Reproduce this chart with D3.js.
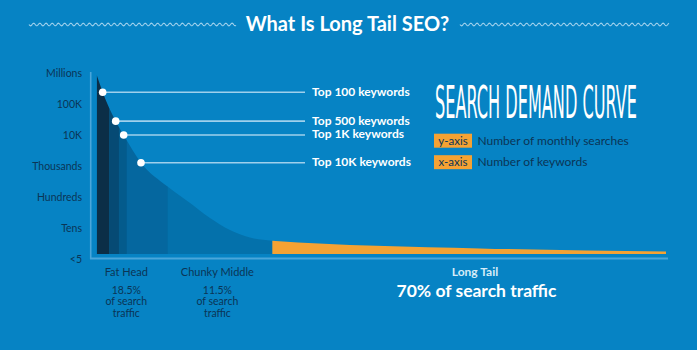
<!DOCTYPE html>
<html>
<head>
<meta charset="utf-8">
<script src="https://cdn.jsdelivr.net/npm/d3@7"></script>
<style>
  html, body { margin: 0; padding: 0; background: #0683c4; }
  svg { display: block; font-family: Lato, "Open Sans", sans-serif; }
</style>
</head>
<body>
<svg id="chart" width="697" height="350"></svg>
<script>
// demand curve: x = keyword position (0..100, share of the x-axis), v = monthly searches
const curveX = [0, 1.05, 3.34, 4.74, 7.78, 12.5, 16.4, 19.9, 23.4, 26.9, 30.8, 67.3, 100];
const curveV = [860000, 240000, 28000, 10000, 1280, 215, 64, 21, 8.6, 4.9, 3.9, 2.2, 1.75];
const baseValue = 1.45;

const yTickValues = [1, 10, 100, 1000, 10000, 100000, 1000000];
const yTickLabels = ["<5", "Tens", "Hundreds", "Thousands", "10K", "100K", "Millions"];

const markerNames = ["Top 100 keywords", "Top 500 keywords", "Top 1K keywords", "Top 10K keywords"];
const markerX = [1.05, 3.34, 4.74, 7.78];
const markerV = [240000, 28000, 10000, 1280];

const bandStart = [0, 2.2, 3.9, 5.27, 12.47, 30.85];
const bandEnd = [2.2, 3.9, 5.27, 12.47, 30.85, 100];
const bandColors = ["#0b2e47", "#064a74", "#045b8c", "#05679f", "#0471ab", "#f5a233"];

const groupNames = ["Fat Head", "Chunky Middle"];
const groupShares = ["18.5%", "11.5%"];
const groupCenters = [5.2, 21.2];

const bg = "#0683c4";
const navy = "#0b3556";
const lineColor = "#9fd0ec";

const svg = d3.select("#chart");
svg.append("rect").attr("width", 697).attr("height", 350).attr("fill", bg);

const x = d3.scaleLinear().domain([0, 100]).range([96.7, 666]);
const y = d3.scaleLog().domain([1, 1000000]).range([259, 73]);

const curveData = curveX.map((d, i) => ({ x: d, v: curveV[i] }));

// title with wavy rules
const wave = (x0, x1, yc) => {
  let p = "";
  for (let px = x0; px <= x1; px += 0.5) {
    const py = yc + 1.3 * Math.sin(((px - x0) / 6.2) * 2 * Math.PI);
    p += (p ? "L" : "M") + px.toFixed(1) + "," + py.toFixed(2);
  }
  return p;
};
svg.append("path").attr("d", wave(29, 236, 24.5))
  .attr("fill", "none").attr("stroke", lineColor).attr("stroke-width", 1.1);
svg.append("path").attr("d", wave(460, 669, 24.5))
  .attr("fill", "none").attr("stroke", lineColor).attr("stroke-width", 1.1);
svg.append("text").attr("x", 347.5).attr("y", 31)
  .attr("text-anchor", "middle").attr("fill", "#fff")
  .attr("font-size", 20).attr("font-weight", 700)
  .text("What Is Long Tail SEO?");

// axes lines
svg.append("line").attr("x1", 90.7).attr("x2", 90.7).attr("y1", 72).attr("y2", 259)
  .attr("stroke", "#4aa6da").attr("stroke-width", 1.6);
svg.append("line").attr("x1", 90).attr("x2", 668).attr("y1", 258.5).attr("y2", 258.5)
  .attr("stroke", "#4aa6da").attr("stroke-width", 1.8);

// y axis labels
const yAxis = d3.axisLeft(y)
  .tickValues(yTickValues)
  .tickFormat((d, i) => yTickLabels[i])
  .tickSize(0).tickPadding(0);
const yg = svg.append("g").attr("transform", "translate(82,0)").call(yAxis);
yg.select(".domain").remove();
yg.selectAll("text").attr("fill", navy).attr("font-size", 10.5)
  .attr("font-family", "Lato, sans-serif").attr("dy", "0.35em");

// curve area clipped into bands
const area = d3.area()
  .x((d) => x(d.x))
  .y0(y(baseValue))
  .y1((d) => y(d.v))
  .curve(d3.curveMonotoneX);

svg.append("clipPath").attr("id", "curve-clip")
  .append("path").attr("d", area(curveData));

svg.append("g").attr("clip-path", "url(#curve-clip)")
  .selectAll("rect")
  .data(bandStart.map((d, i) => ({ x0: d, x1: bandEnd[i], c: bandColors[i] })))
  .join("rect")
  .attr("x", (d) => x(d.x0))
  .attr("width", (d) => x(d.x1) - x(d.x0) + 0.3)
  .attr("y", y(1000000))
  .attr("height", y(baseValue) - y(1000000))
  .attr("fill", (d) => d.c);

// markers
const markers = markerNames.map((n, i) => ({ name: n, x: markerX[i], v: markerV[i] }));
const mg = svg.append("g");
mg.selectAll("line").data(markers).join("line")
  .attr("x1", (d) => x(d.x)).attr("x2", 305)
  .attr("y1", (d) => y(d.v)).attr("y2", (d) => y(d.v))
  .attr("stroke", lineColor).attr("stroke-width", 1.6);
mg.selectAll("circle").data(markers).join("circle")
  .attr("cx", (d) => x(d.x)).attr("cy", (d) => y(d.v)).attr("r", 3.8)
  .attr("fill", "#fff");
mg.selectAll("text").data(markers).join("text")
  .attr("x", 312).attr("y", (d) => y(d.v) - 0.8).attr("dy", "0.35em")
  .attr("fill", "#fff").attr("font-size", 12).attr("font-weight", 700)
  .text((d) => d.name);

// heading, squeezed horizontally to the reference width
const headG = svg.append("g");
const head = headG.append("text").attr("x", 0).attr("y", 0)
  .attr("fill", "#fff").attr("font-size", 45)
  .attr("font-family", "'Liberation Sans Narrow', 'DejaVu Sans Condensed', sans-serif")
  .text("SEARCH DEMAND CURVE");
const headLen = head.node().getComputedTextLength();
headG.attr("transform", `translate(435,118) scale(${202 / headLen},1)`);

const legend = [
  { key: "y-axis", label: "Number of monthly searches", yc: 140.7 },
  { key: "x-axis", label: "Number of keywords", yc: 162.2 },
];
const lg = svg.append("g").selectAll("g").data(legend).join("g")
  .attr("transform", (d) => `translate(434,${d.yc})`);
lg.append("rect").attr("x", 0).attr("y", -7).attr("width", 38).attr("height", 14)
  .attr("fill", "#f5a233");
lg.append("text").attr("x", 19).attr("dy", "0.35em").attr("text-anchor", "middle")
  .attr("fill", navy).attr("font-size", 11.5).text((d) => d.key);
lg.append("text").attr("x", 43.5).attr("dy", "0.35em")
  .attr("fill", navy).attr("font-size", 12).text((d) => d.label);

// bottom group labels
const groups = groupNames.map((n, i) => ({ name: n, share: groupShares[i], c: groupCenters[i] }));
const gg = svg.append("g").selectAll("g").data(groups).join("g")
  .attr("transform", (d) => `translate(${x(d.c)},0)`);
gg.append("text").attr("y", 275.5).attr("font-size", 11).text((d) => d.name);
gg.append("text").attr("y", 293.5).text((d) => d.share);
gg.append("text").attr("y", 305.2).text("of search");
gg.append("text").attr("y", 316.8).text("traffic");
gg.selectAll("text").attr("text-anchor", "middle").attr("fill", navy)
  .attr("font-size", (d, i, n) => (i === 0 ? 11 : 10.5));
gg.each(function () {
  d3.select(this).selectAll("text").attr("font-size", (d, i) => (i === 0 ? 11 : 10.5));
});

svg.append("text").attr("x", 475).attr("y", 275.5).attr("text-anchor", "middle")
  .attr("fill", "#d6ecf8").attr("font-size", 12).attr("font-weight", 700)
  .text("Long Tail");
svg.append("text").attr("x", 476.5).attr("y", 297).attr("text-anchor", "middle")
  .attr("fill", "#fff").attr("font-size", 17.5).attr("font-weight", 700)
  .text("70% of search traffic");
</script>
</body>
</html>
